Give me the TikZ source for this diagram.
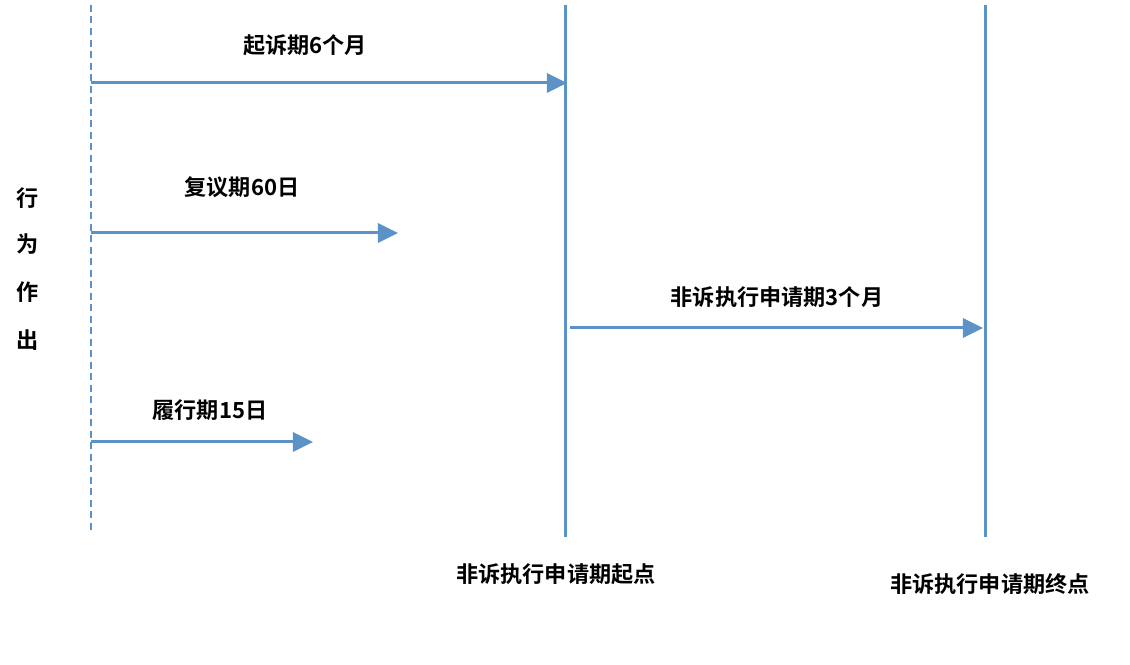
\documentclass[tikz,border=0pt]{standalone}
\usepackage{fontspec}
\setmainfont{Noto Sans CJK SC}[BoldFont={* Bold}]
\usetikzlibrary{arrows.meta}
\definecolor{lb}{HTML}{5B93C7}
\begin{document}
\begin{tikzpicture}[x=0.01cm,y=-0.01cm,
  ln/.style={draw=lb,line width=0.85pt},
  arr/.style={ln,-{Triangle[length=0.2cm,width=0.19cm]}},
  lbl/.style={font=\bfseries\fontsize{6.3pt}{7pt}\selectfont,inner sep=0pt}]
\useasboundingbox (0,0) rectangle (1130,665);
\coordinate (d0) at (91,5); \coordinate (d1) at (91,532);
\draw[ln,dash pattern=on 0.07cm off 0.045cm] (d0) -- (d1);
\coordinate (s0) at (565,5); \coordinate (s1) at (565,537);
\coordinate (e0) at (985,5); \coordinate (e1) at (985,537);
\draw[ln] (s0) -- (s1); \draw[ln] (e0) -- (e1);
\coordinate (a1) at (91,83); \coordinate (b1) at (567,83);
\coordinate (a2) at (91,233); \coordinate (b2) at (398,233);
\coordinate (a3) at (570,328); \coordinate (b3) at (983,328);
\coordinate (a4) at (91,442); \coordinate (b4) at (313,442);
\draw[arr] (a1) -- (b1); \draw[arr] (a2) -- (b2);
\draw[arr] (a3) -- (b3); \draw[arr] (a4) -- (b4);
\node[lbl] (t1) at (305,45) {起诉期6个月};
\node[lbl] (t2) at (242,187) {复议期60日};
\node[lbl] (t3) at (777,297) {非诉执行申请期3个月};
\node[lbl] (t4) at (210,410) {履行期15日};
\node[lbl] (v1) at (28,198) {行};
\node[lbl] (v2) at (28,244) {为};
\node[lbl] (v3) at (28,292) {作};
\node[lbl] (v4) at (28,340) {出};
\node[lbl] (q1) at (556,574) {非诉执行申请期起点};
\node[lbl] (q2) at (990,584) {非诉执行申请期终点};
\end{tikzpicture}
\end{document}
